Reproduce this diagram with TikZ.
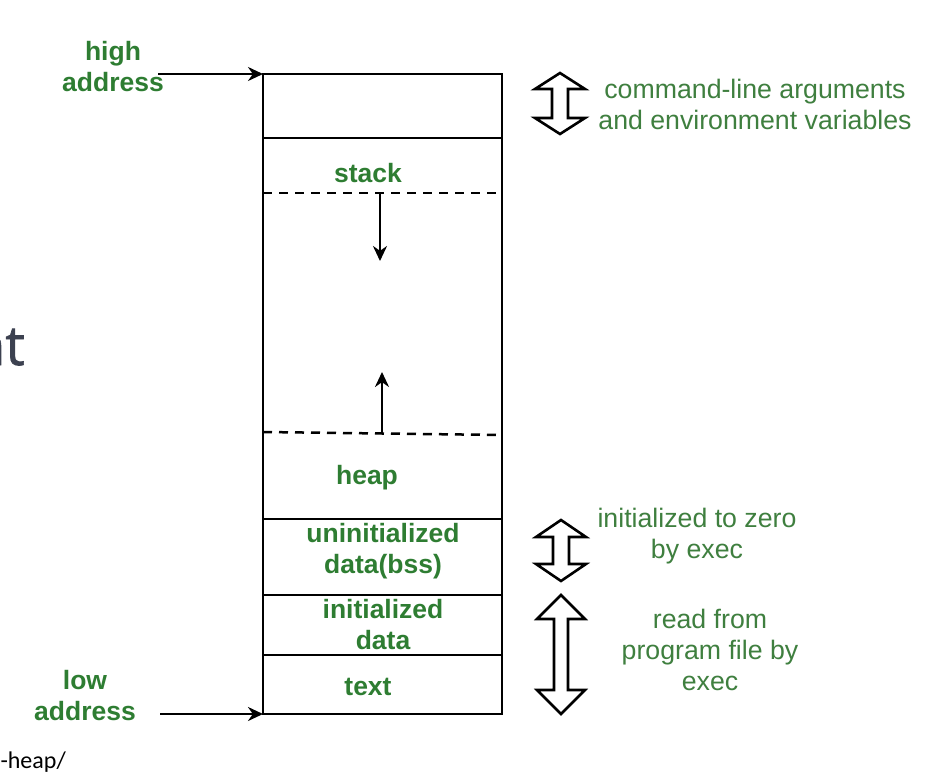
\documentclass[tikz,border=0pt]{standalone}
\usepackage{fontspec}
\setmainfont{Liberation Sans}
\newfontfamily\ofont{Open Sans}[FakeBold=1.2]
\newfontfamily\cfont{Carlito}
\usetikzlibrary{arrows.meta}
\definecolor{gfg}{HTML}{2E7D32}
\definecolor{gtxt}{HTML}{3F7F3F}
\definecolor{bgtxt}{HTML}{3C4150}
\newcommand\hollowdbl[6]{% cx, top, bottom, half head, half shaft, head height
  \draw[harrow] (#1,#2) -- ({#1+#4},{#2+#6}) -- ({#1+#5},{#2+#6}) -- ({#1+#5},{#3-#6})
    -- ({#1+#4},{#3-#6}) -- (#1,#3) -- ({#1-#4},{#3-#6}) -- ({#1-#5},{#3-#6})
    -- ({#1-#5},{#2+#6}) -- ({#1-#4},{#2+#6}) -- cycle;}
\begin{document}
\begin{tikzpicture}[x=1pt,y=-1pt,
  lbl/.style={font=\fontsize{26.5}{31}\selectfont\bfseries, text=gfg, align=center, inner sep=0pt},
  note/.style={font=\fontsize{26.7}{31}\selectfont, text=gtxt, align=center, inner sep=0pt},
  ptr/.style={line width=2.5pt, -{Stealth[length=15pt,width=14pt]}},
  divline/.style={line width=2.5pt},
  dsh/.style={line width=2.5pt, dash pattern=on 9pt off 7pt},
  harrow/.style={draw=black, line width=2.6pt, fill=white, line join=miter}]
\useasboundingbox (0,0) rectangle (932,782);
\begin{scope}
\clip (0,0) rectangle (932,782);
% background fragments
\node[anchor=base east, inner sep=0pt, text=bgtxt, font=\ofont\fontsize{55}{57}\selectfont] (bgnt) at (25,365) {nt};
\node[anchor=base east, inner sep=0pt, text=black, font=\cfont\fontsize{24}{26}\selectfont] (bgheap) at (66,768) {-heap/};
\end{scope}
% memory box
\coordinate (tl) at (263,74);
\coordinate (tr) at (502,74);
\coordinate (bl) at (263,714);
\coordinate (br) at (502,714);
\draw[divline] (tl) -- (tr) -- (br) -- (bl) -- cycle;
\coordinate (a1) at (263,138); \coordinate (b1) at (502,138);
\coordinate (a2) at (263,519); \coordinate (b2) at (502,519);
\coordinate (a3) at (263,595); \coordinate (b3) at (502,595);
\coordinate (a4) at (263,655); \coordinate (b4) at (502,655);
\draw[divline] (a1) -- (b1);
\draw[divline] (a2) -- (b2);
\draw[divline] (a3) -- (b3);
\draw[divline] (a4) -- (b4);
\coordinate (d1a) at (263,193); \coordinate (d1b) at (502,193);
\coordinate (d2a) at (263,432); \coordinate (d2b) at (502,435);
\draw[dsh] (d1a) -- (d1b);
\draw[dsh] (d2a) -- (d2b);
% growth arrows
\coordinate (sd0) at (380,193); \coordinate (sd1) at (380,261);
\coordinate (hu0) at (382,433); \coordinate (hu1) at (382,372);
\draw[ptr] (sd0) -- (sd1);
\draw[ptr] (hu0) -- (hu1);
% box labels
\node[lbl] (stack) at (368,173) {stack};
\node[lbl] (heap) at (367,478) {heap};
\node[lbl] (bss) at (383,551) {uninitialized\\data(bss)};
\node[lbl] (idata) at (383,625) {initialized\\data};
\node[lbl] (text) at (368,687) {text};
% address pointers
\node[lbl] (high) at (113,67) {high\\address};
\node[lbl] (low) at (85,696) {low\\address};
\coordinate (hs) at (158,74);
\coordinate (ls) at (160,714);
\draw[ptr] (hs) -- (tl);
\draw[ptr] (ls) -- (bl);
% hollow double arrows
\hollowdbl{560}{73}{134}{25}{8}{16}
\hollowdbl{561}{520}{581}{25}{8}{17}
\hollowdbl{561}{595}{714}{24}{7}{24}
% notes
\node[note] (cmd) at (755,104) {command-line arguments\\and environment variables};
\node[note] (zero) at (697,536) {initialized to zero\\by exec};
\node[note] (read) at (710,650) {read from\\program file by\\exec};
\end{tikzpicture}
\end{document}
